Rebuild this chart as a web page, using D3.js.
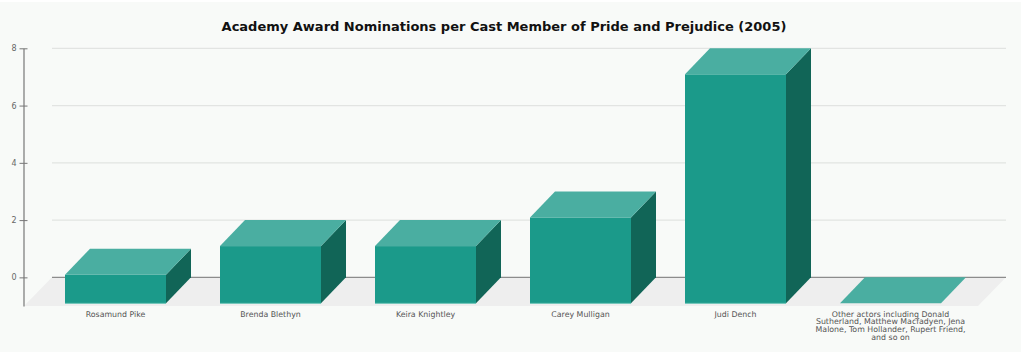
<!DOCTYPE html>
<html><head><meta charset="utf-8">
<script src="https://cdn.jsdelivr.net/npm/d3@7"></script>
<style>html,body{margin:0;padding:0;background:#fff}svg{display:block}text{font-family:"DejaVu Sans",sans-serif}</style>
</head><body><div id="c"></div>
<script>
const titleText = "Academy Award Nominations per Cast Member of Pride and Prejudice (2005)";
const categories = ["Rosamund Pike","Brenda Blethyn","Keira Knightley","Carey Mulligan","Judi Dench","Other actors including Donald Sutherland, Matthew Macfadyen, Jena Malone, Tom Hollander, Rupert Friend, and so on"];
const nominations = [1,2,2,3,8,0];
const yTicks = [0,2,4,6,8];
const W=1021,H=352, depthX=25, depthY=26;
const svg=d3.select("#c").append("svg").attr("width",W).attr("height",H);
svg.append("rect").attr("x",0).attr("y",2).attr("width",W).attr("height",H-2).attr("fill","#f8faf8");
const y=d3.scaleLinear().domain([-1,8]).range([306,48.3]);
const x=d3.scaleBand().domain(categories).range([38,968]).paddingInner(54/155).paddingOuter(27/155);
const floorL=52, floorR=1006;
svg.append("text").attr("x",504).attr("y",30.5).attr("text-anchor","middle").attr("font-size",13).attr("font-weight","bold").attr("fill","#111").text(titleText);
// floor
svg.append("polygon").attr("points",[[floorL,y(0)],[floorR,y(0)],[floorR-28,y(-1)],[floorL-28,y(-1)]].join(" ")).attr("fill","#eeeeee");
// grid
svg.selectAll("line.g").data(yTicks).join("line").attr("class","g").attr("x1",floorL).attr("x2",floorR)
 .attr("y1",d=>y(d)).attr("y2",d=>y(d)).attr("stroke",d=>d===0?"#8c8c8c":"#e2e4e2").attr("stroke-width",1.3);
// axis
const axis=d3.axisLeft(y).tickValues(yTicks).tickSizeInner(4).tickSizeOuter(0).tickFormat(d3.format("d"));
const ga=svg.append("g").attr("transform","translate(23.5,0)").call(axis);
ga.select(".domain").attr("stroke","#777").attr("stroke-width",1.2);
ga.selectAll(".tick line").attr("stroke","#777").attr("x2",4).attr("x1",-4);
ga.selectAll(".tick text").attr("x",-7).attr("font-size",8).attr("fill","#666").attr("font-family",'"DejaVu Sans"');
// bars
const bars=svg.selectAll("g.b").data(categories.map((c,i)=>({c,v:nominations[i]}))).join("g").attr("class","b");
const bw=x.bandwidth(), base=y(0)+depthY;
bars.each(function(d){
  const g=d3.select(this), x0=x(d.c), x1=x0+bw, h=y(0)-y(d.v), top=base-h;
  if(d.v>0){
    g.append("polygon").attr("points",[[x1,top],[x1+depthX,top-depthY],[x1+depthX,base-depthY],[x1,base]].join(" ")).attr("fill","#116557");
    g.append("rect").attr("x",x0).attr("y",top).attr("width",bw).attr("height",h).attr("fill","#1b9a8a");
    g.append("line").attr("x1",x0).attr("x2",x1).attr("y1",base).attr("y2",base).attr("stroke","#6fc4b8").attr("stroke-width",1);
  }
  g.append("polygon").attr("points",[[x0,top],[x1,top],[x1+depthX,top-depthY],[x0+depthX,top-depthY]].join(" ")).attr("fill","#4aaea1");
});
// category labels
const labels=svg.selectAll("text.c").data(categories).join("text").attr("class","c").attr("text-anchor","middle").attr("font-size",7.85).attr("fill","#555")
 .attr("y",316.5);
labels.each(function(d){
  const t=d3.select(this), cx=x(d)+bw/2;
  let line=[], ts=t.append("tspan").attr("x",cx), n=0;
  d.split(" ").forEach(w=>{
    line.push(w); ts.text(line.join(" "));
    if(ts.node().getComputedTextLength()>155){
      line.pop(); ts.text(line.join(" ")); line=[w]; n++;
      ts=t.append("tspan").attr("x",cx).attr("y",316.5+n*7.8).text(w);
    }
  });
});
</script></body></html>
